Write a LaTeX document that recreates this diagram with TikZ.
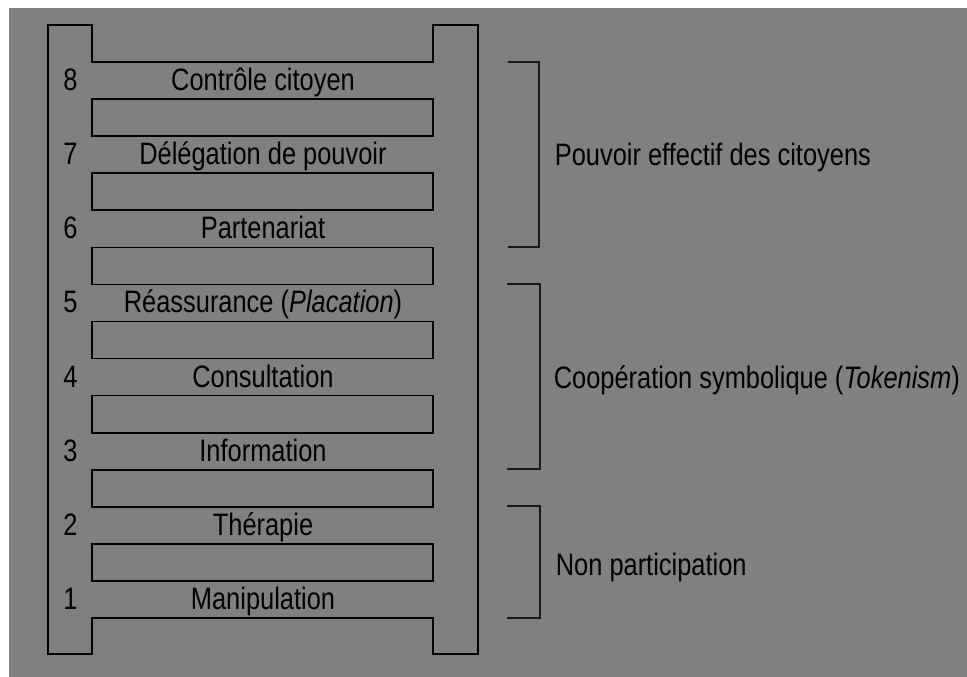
\documentclass[tikz,border=0pt]{standalone}
\usepackage{fontspec}
\setmainfont{Liberation Sans}[FakeStretch=0.82]
\usetikzlibrary{calc}
\definecolor{fond}{HTML}{808080}

\tikzset{
	echelon/.style={font=\fontsize{31}{33}\selectfont, inner sep=0pt, anchor=base},
	groupe/.style={font=\fontsize{31}{33}\selectfont, inner sep=0pt, anchor=base west},
	crochet/.style={line width=2.2pt, draw=black!90}
}

\begin{document}
\begin{tikzpicture}[x=1pt,y=-1pt,line width=1.7pt]
	\useasboundingbox (0,0) rectangle (967,677);
	\fill[white] (0,0) rectangle (967,677);
	\fill[fond] (9,8) rectangle (967,677);
	
	% montants de l'echelle
	\draw (48,25) -- (92,25) -- (92,62) -- (433,62) -- (433,25) -- (478,25) -- (478,654) -- (433,654) -- (433,618) -- (92,618) -- (92,654) -- (48,654) -- cycle;
	
	% barreaux
	\foreach \k in {1,2, ...,7}{
		\draw (92,{62 + 37.07*(2*\k-1)}) rectangle (433,{62 + 37.07*2*\k});
	}
	
	% niveaux
	\foreach \n/\txt [count=\i from 0] in {8/{Contrôle citoyen},7/{Délégation de pouvoir},6/{Partenariat},5/{Réassurance (\textit{Placation})},4/{Consultation},3/{Information},2/{Thérapie},1/{Manipulation}}{
		\node[echelon] (num\n) at (70.5,{90.5 + 74.14*\i}) {\n};
		\node[echelon] (niv\n) at (263,{90.5 + 74.14*\i}) {\txt};
	}
	
	% groupes
	\coordinate (g1h) at (508,62);
	\coordinate (g1b) at (508,247);
	\coordinate (g2h) at (507,284);
	\coordinate (g2b) at (507,469);
	\coordinate (g3h) at (507,506);
	\coordinate (g3b) at (507,618);
	\draw[crochet] (g1h) -- ++(31,0) |- (g1b);
	\draw[crochet] (g2h) -- ++(33,0) |- (g2b);
	\draw[crochet] (g3h) -- ++(33,0) |- (g3b);
	
	\node[groupe] (pouvoir) at (554,165) {Pouvoir effectif des citoyens};
	\node[groupe] (cooperation) at (553,388) {Coopération symbolique (\textit{Tokenism})};
	\node[groupe] (nonpart) at (555,575) {Non participation};
\end{tikzpicture}
\end{document}
